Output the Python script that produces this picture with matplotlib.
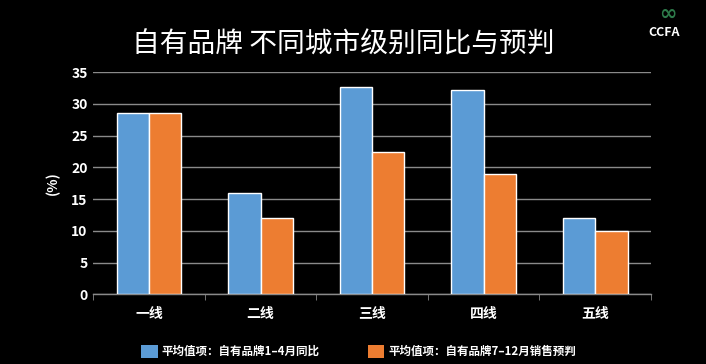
import matplotlib
matplotlib.use("Agg")
import matplotlib.pyplot as plt
import numpy as np

plt.rcParams['font.family'] = ['Noto Sans CJK SC', 'DejaVu Sans']

categories = ["一线", "二线", "三线", "四线", "五线"]
series1_name = "平均值项：自有品牌1–4月同比"
series2_name = "平均值项：自有品牌7–12月销售预判"
series1 = [28.5, 16.0, 32.6, 32.2, 12.0]
series2 = [28.5, 12.0, 22.5, 18.9, 10.0]
yticks = [0, 5, 10, 15, 20, 25, 30, 35]

fig = plt.figure(figsize=(7.06, 3.64), dpi=100, facecolor='black')
ax = fig.add_axes([0.132, 0.1915, 0.79, 0.61], facecolor='black')

x = np.arange(len(categories))
w = 0.29
ax.bar(x - w/2, series1, w, color='#5B9BD5', edgecolor='white', linewidth=1.0, label=series1_name, zorder=3)
ax.bar(x + w/2, series2, w, color='#ED7D31', edgecolor='white', linewidth=1.0, label=series2_name, zorder=3)

ax.set_xlim(-0.5, len(categories) - 0.5)
ax.set_ylim(0, 35)
ax.set_yticks(yticks)
ax.set_yticklabels([str(t) for t in yticks], color='white', fontsize=10, fontweight='bold')
ax.set_xticks(x)
ax.set_xticklabels(categories, color='white', fontsize=10, fontweight='bold')
ax.tick_params(axis='x', length=0, pad=9)
ax.tick_params(axis='y', length=0, pad=4)
ax.set_xticks(np.arange(len(categories) + 1) - 0.5, minor=True)
ax.tick_params(axis='x', which='minor', length=4, color='#888888', direction='out')

ax.yaxis.grid(True, color='#8a8a8a', linewidth=1.0, zorder=0)
for s in ['top', 'right', 'left']:
    ax.spines[s].set_visible(False)
ax.spines['bottom'].set_color('#8a8a8a')
ax.spines['bottom'].set_linewidth(1.0)

ax.set_ylabel("(%)", color='white', fontsize=10, fontweight='bold', labelpad=8)

fig.text(0.486, 0.878, "自有品牌 不同城市级别同比与预判", color='white', fontsize=20,
         ha='center', va='center')
fig.text(0.941, 0.91, "CCFA", color='white', fontsize=9, fontweight='bold', ha='center', va='center')
fig.text(0.946, 0.962, "∞", color='#2d7a4a', fontsize=15, fontweight='bold', ha='center', va='center',
         family='DejaVu Sans')

leg = fig.legend(loc='lower center', bbox_to_anchor=(0.508, -0.012), ncol=2, frameon=False,
                 fontsize=8.3, handlelength=1.4, handleheight=1.4, columnspacing=4.2, handletextpad=0.35)
for t in leg.get_texts():
    t.set_color('white')
    t.set_fontweight('bold')
for h in leg.legend_handles:
    h.set_edgecolor('none')

fig.savefig("out.png", dpi=100, facecolor='black')
